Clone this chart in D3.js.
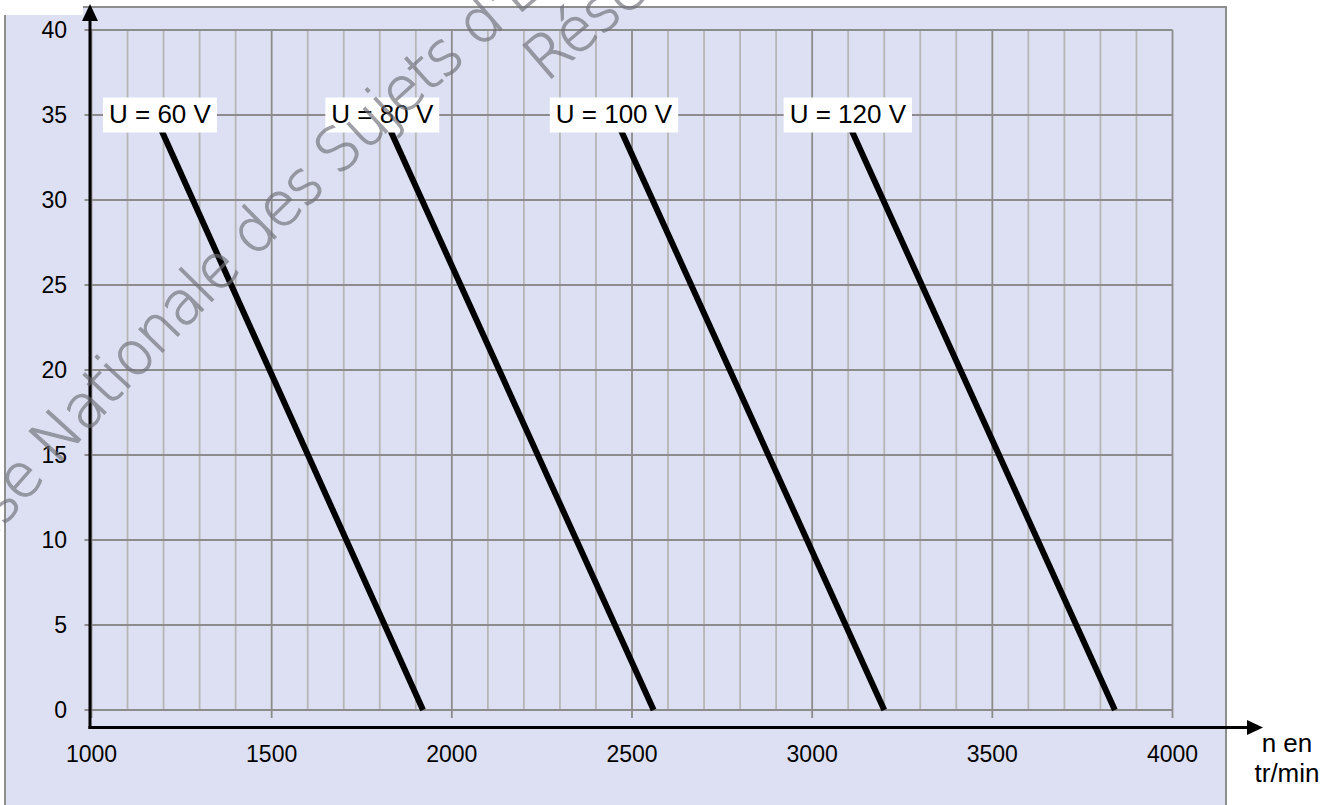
<!DOCTYPE html>
<html>
<head>
<meta charset="utf-8">
<script src="https://cdn.jsdelivr.net/npm/d3@7"></script>
<style>
  html, body { margin: 0; padding: 0; background: #ffffff; }
  svg { display: block; }
</style>
</head>
<body>
<svg id="chart" width="1335" height="805"></svg>
<script>
// ---------- data ----------
const speedTicks = [1000, 1500, 2000, 2500, 3000, 3500, 4000];      // n (tr/min), labelled
const speedMinor = d3.range(1000, 4001, 100);                      // minor grid every 100
const torqueTicks = [0, 5, 10, 15, 20, 25, 30, 35, 40];             // labelled y ticks
const voltages = [60, 80, 100, 120];
const seriesLabels = ["U = 60 V", "U = 80 V", "U = 100 V", "U = 120 V"];
const torquePoints = [0, 35];                                      // T at the two line ends
const speedAtZeroTorque = [1920, 2560, 3200, 3840];
const speedAtTopTorque  = [1175, 1810, 2450, 3090];
const labelSpeed = [1190, 1807, 2450, 3099];
const labelTorque = [35, 35, 35, 35];
const axisTitleX = ["n en", "tr/min"];
const watermarkLines = ["Base Nationale des Sujets d'Examens de l'enseignement professionnel", "Réseau Canopé"];

// ---------- layout ----------
const svg = d3.select("#chart");
const x = d3.scaleLinear().domain([1000, 4000]).range([91.5, 1172.5]);
const y = d3.scaleLinear().domain([0, 40]).range([710, 30]);

// background panel
svg.append("rect").attr("x", 5).attr("y", 7).attr("width", 1221).attr("height", 830)
  .attr("fill", "#dde0f2").attr("stroke", "#8e8e8e").attr("stroke-width", 2);
svg.append("rect").attr("x", 0).attr("y", 0).attr("width", 83).attr("height", 15).attr("fill", "#ffffff");

// grid
const grid = svg.append("g");
grid.selectAll("line.minor").data(speedMinor.filter(d => d % 500 !== 0)).join("line")
  .attr("class", "minor")
  .attr("x1", d => x(d)).attr("x2", d => x(d))
  .attr("y1", y(40)).attr("y2", y(0))
  .attr("stroke", "#b6b6b6").attr("stroke-width", 1.8);
grid.selectAll("line.hmaj").data(torqueTicks).join("line")
  .attr("class", "hmaj")
  .attr("x1", x(1000) - 7).attr("x2", x(4000))
  .attr("y1", d => y(d)).attr("y2", d => y(d))
  .attr("stroke", "#8c8c8c").attr("stroke-width", 1.8);
grid.selectAll("line.vmaj").data(speedTicks).join("line")
  .attr("class", "vmaj")
  .attr("x1", d => x(d)).attr("x2", d => x(d))
  .attr("y1", y(40)).attr("y2", y(0) + 8)
  .attr("stroke", "#8c8c8c").attr("stroke-width", 1.8);

// data lines
const lineGen = d3.line().x(d => x(d[0])).y(d => y(d[1]));
voltages.forEach((u, i) => {
  const pts = [[speedAtZeroTorque[i], torquePoints[0]], [speedAtTopTorque[i], torquePoints[1]]];
  svg.append("path").attr("d", lineGen(pts))
    .attr("fill", "none").attr("stroke", "#000").attr("stroke-width", 6)
    .attr("stroke-linecap", "butt");
});

// series labels with white boxes
const lab = svg.append("g").attr("font-family", "Liberation Sans, Arial, sans-serif").attr("font-size", 26);
seriesLabels.forEach((s, i) => {
  const cx = x(labelSpeed[i]), cy = y(labelTorque[i]);
  const t = lab.append("text").attr("x", cx).attr("y", cy + 7.5).attr("text-anchor", "middle").attr("fill", "#000").text(s);
  const w = t.node().getComputedTextLength();
  lab.insert("rect", "text").attr("x", cx - w / 2 - 6).attr("y", cy - 17.5).attr("width", w + 12).attr("height", 35).attr("fill", "#fff");
});

// axes with arrows
const ax = svg.append("g");
ax.append("line").attr("x1", 90).attr("x2", 90).attr("y1", 729).attr("y2", 18).attr("stroke", "#000").attr("stroke-width", 3);
ax.append("path").attr("d", "M90,4 L82,21 L98,21 Z").attr("fill", "#000");
ax.append("line").attr("x1", 88.5).attr("x2", 1250).attr("y1", 727.5).attr("y2", 727.5).attr("stroke", "#000").attr("stroke-width", 3);
ax.append("path").attr("d", "M1263,727.5 L1247,720 L1247,735 Z").attr("fill", "#000");

// tick labels
const tl = svg.append("g").attr("font-family", "Liberation Sans, Arial, sans-serif").attr("font-size", 23).attr("fill", "#000");
tl.selectAll("text.yt").data(torqueTicks).join("text").attr("class", "yt")
  .attr("x", 67).attr("y", d => y(d) + 8).attr("text-anchor", "end").text(d => d);
tl.selectAll("text.xt").data(speedTicks).join("text").attr("class", "xt")
  .attr("x", d => x(d)).attr("y", 761.5).attr("text-anchor", "middle").text(d => d);
svg.append("g").attr("font-family", "Liberation Sans, Arial, sans-serif").attr("font-size", 26)
  .selectAll("text").data(axisTitleX).join("text")
  .attr("x", 1287).attr("y", (d, i) => 752 + i * 30).attr("text-anchor", "middle").text(d => d);

// watermark (curved text on a large circle)
const defs = svg.append("defs");
const wm = svg.append("g").attr("font-family", "DejaVu Sans, sans-serif").attr("font-weight", 200)
  .attr("font-size", 60).attr("letter-spacing", -2)
  .attr("fill", "#6f7078").attr("stroke", "#6f7078").attr("stroke-width", 1.1)
  .attr("opacity", 0.66);
const tmp = wm.append("text").text("Ba");
const baW = tmp.node().getComputedTextLength();
tmp.remove();

const P1 = [3, 527], P2 = [494, 36], R1 = 5000;
const mx = (P1[0] + P2[0]) / 2, my = (P1[1] + P2[1]) / 2;
const dxC = P2[0] - P1[0], dyC = P2[1] - P1[1], Lc = Math.hypot(dxC, dyC);
const nx = -dyC / Lc, ny = dxC / Lc;
const hC = Math.sqrt(R1 * R1 - Lc * Lc / 4);
const C = [mx + nx * hC, my + ny * hC];
const ang = p => Math.atan2(p[1] - C[1], p[0] - C[0]);
const arcPath = (r, a0, a1) =>
  `M${C[0] + r * Math.cos(a0)},${C[1] + r * Math.sin(a0)} A${r},${r} 0 0 1 ${C[0] + r * Math.cos(a1)},${C[1] + r * Math.sin(a1)}`;

const a1 = ang(P1);
defs.append("path").attr("id", "wmArc1").attr("d", arcPath(R1, a1 - 300 / R1, a1 + 1500 / R1));
wm.append("text").append("textPath").attr("href", "#wmArc1")
  .attr("startOffset", 300 - baW).text(watermarkLines[0]);

const Q = [546, 83];
const R2 = Math.hypot(Q[0] - C[0], Q[1] - C[1]);
const a2 = ang(Q);
defs.append("path").attr("id", "wmArc2").attr("d", arcPath(R2, a2, a2 + 900 / R2));
wm.append("text").append("textPath").attr("href", "#wmArc2")
  .attr("startOffset", 0).text(watermarkLines[1]);
</script>
</body>
</html>
